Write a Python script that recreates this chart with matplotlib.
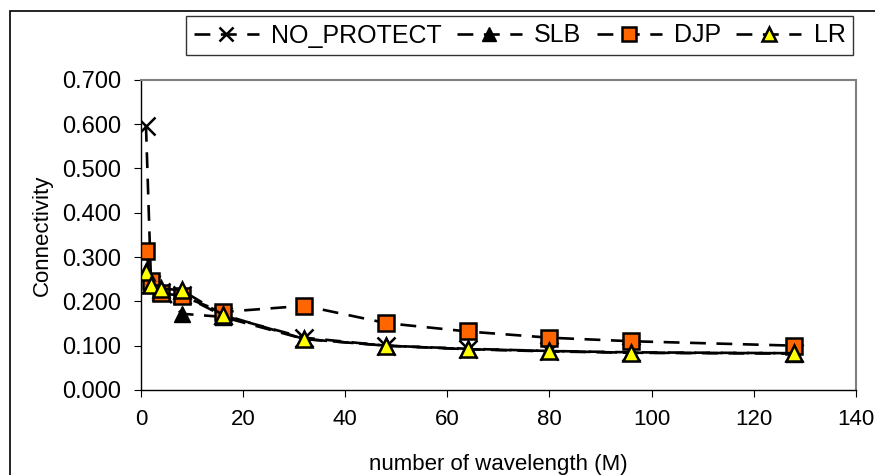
import matplotlib
matplotlib.use("Agg")
import matplotlib.pyplot as plt
from matplotlib.ticker import FormatStrFormatter
from matplotlib.patches import Rectangle

plt.rcParams['font.family'] = ['Liberation Sans', 'DejaVu Sans']

# number of wavelength (M)
m = [1, 2, 4, 8, 16, 32, 48, 64, 80, 96, 128]

no_protect = [0.596, 0.240, 0.222, 0.215, 0.168, 0.118, 0.100, 0.093, 0.088, 0.085, 0.083]
slb = [0.268, 0.238, 0.222, 0.172, 0.165, 0.115, 0.100, 0.092, 0.087, 0.084, 0.082]
djp = [0.313, 0.247, 0.219, 0.212, 0.176, 0.190, 0.151, 0.132, 0.118, 0.110, 0.100]
lr = [0.266, 0.238, 0.229, 0.225, 0.170, 0.115, 0.100, 0.092, 0.088, 0.084, 0.083]

fig = plt.figure(figsize=(8.75, 4.75), dpi=100)
ax = fig.add_axes([0.161, 0.179, 0.817, 0.653])

# outer chart border
fig.patches.append(Rectangle((10 / 875, -0.1), 1.2, 1 - 11 / 475 + 0.1,
                             transform=fig.transFigure, fill=False,
                             edgecolor="black", linewidth=1.2))

dash = (0, (6, 4))
lw = 1.9
ax.plot(m, no_protect, color="black", linestyle=dash, linewidth=lw,
        marker="x", markersize=13, markeredgewidth=1.8, label="NO_PROTECT")
ax.plot(m, slb, color="black", linestyle=dash, linewidth=lw,
        marker="^", markersize=12, markerfacecolor="black",
        markeredgecolor="black", label="SLB")
ax.plot(m, djp, color="black", linestyle=dash, linewidth=lw,
        marker="s", markersize=12, markerfacecolor="#ff6600",
        markeredgecolor="black", markeredgewidth=1.8, label="DJP")
ax.plot(m, lr, color="black", linestyle=dash, linewidth=lw,
        marker="^", markersize=12, markerfacecolor="#ffff00",
        markeredgecolor="black", markeredgewidth=1.8, label="LR")

ax.set_xlim(0, 140)
ax.set_ylim(0, 0.7)
ax.set_xticks(range(0, 141, 20))
ax.set_yticks([i / 10 for i in range(8)])
ax.yaxis.set_major_formatter(FormatStrFormatter("%.3f"))
ax.tick_params(axis="x", labelsize=16, length=5, direction="out", pad=9)
ax.tick_params(axis="y", labelsize=17, length=5, direction="out", pad=9)

for s in ["top", "right"]:
    ax.spines[s].set_color("#808080")
    ax.spines[s].set_linewidth(1.5)
for s in ["left", "bottom"]:
    ax.spines[s].set_linewidth(1.0)

ax.set_xlabel("number of wavelength (M)", fontsize=16, labelpad=17)
ax.set_ylabel("Connectivity", fontsize=16, labelpad=7)

leg = fig.legend(loc="upper right", bbox_to_anchor=(853 / 875, 1 - 16 / 475),
                 ncol=4, fontsize=18, frameon=True, fancybox=False,
                 handlelength=2.6, columnspacing=0.6, handletextpad=0.5,
                 borderpad=0.3, borderaxespad=0, markerscale=0.8)
leg.get_frame().set_edgecolor("black")
leg.get_frame().set_linewidth(1.0)

fig.savefig("out.png", dpi=100)
